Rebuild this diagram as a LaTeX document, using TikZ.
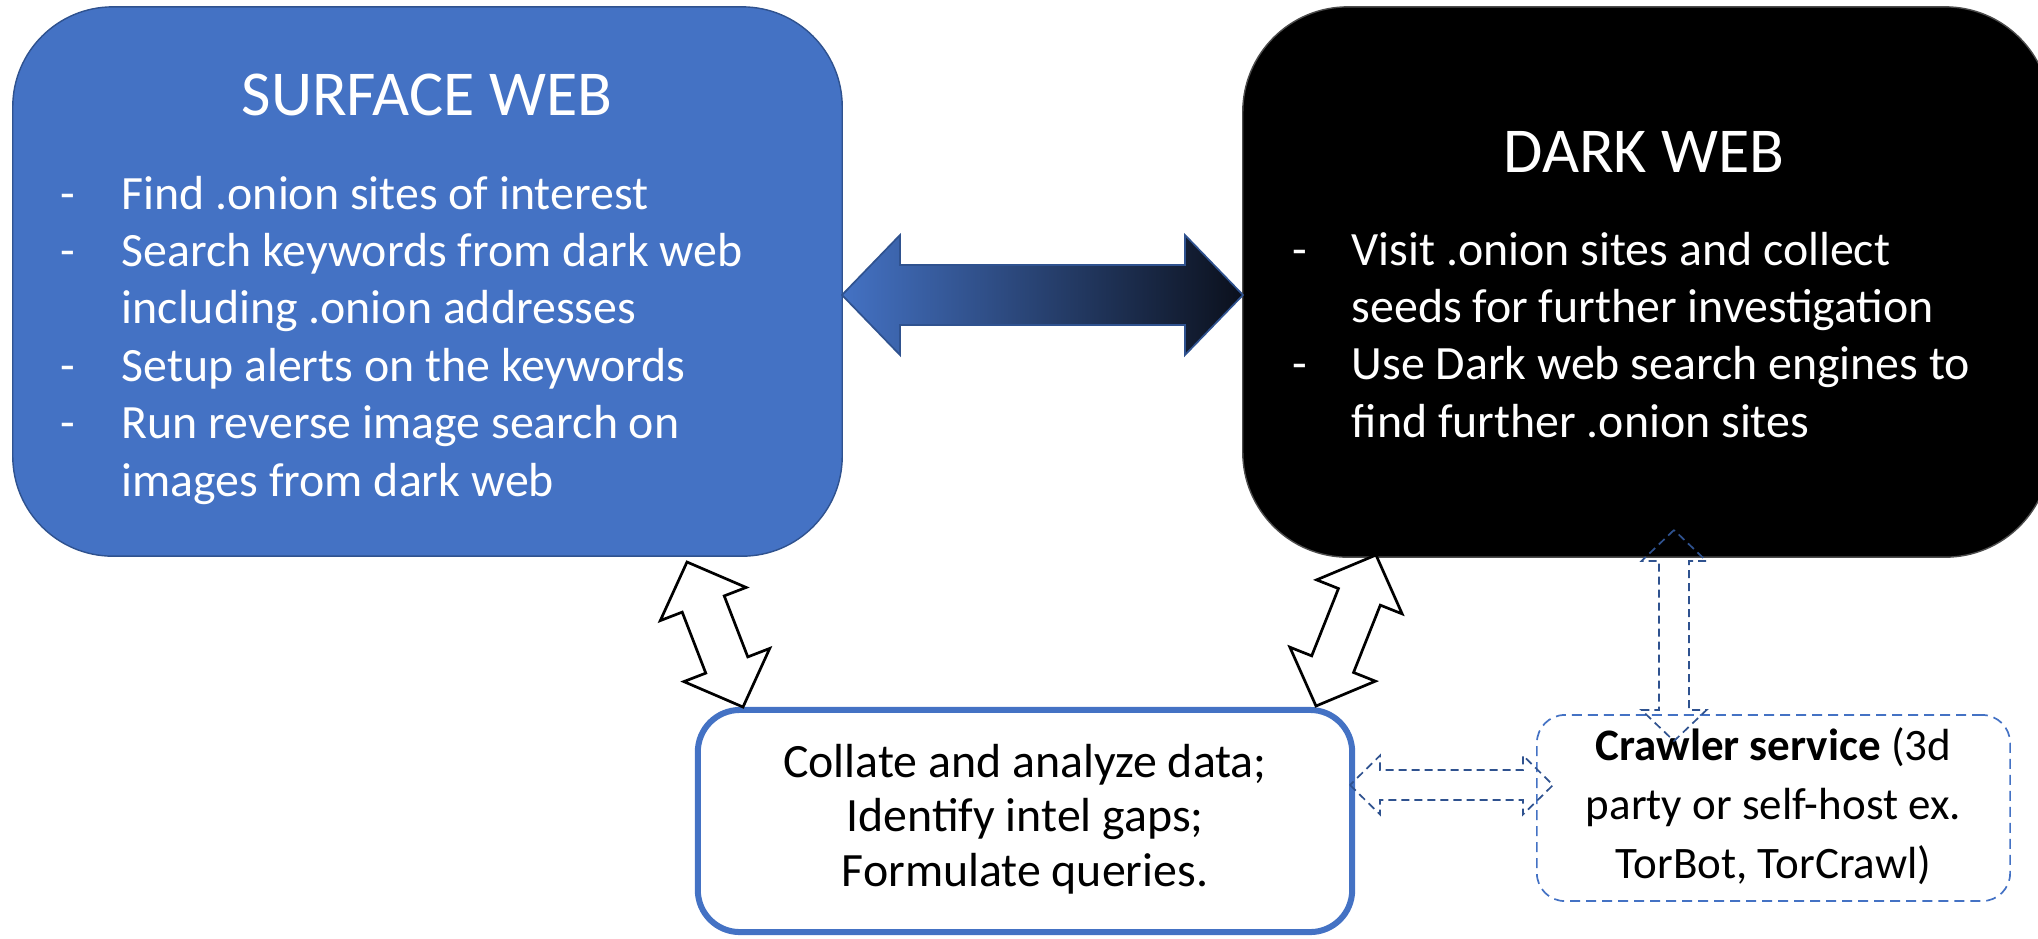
\documentclass[tikz,border=0pt]{standalone}
\usepackage{fontspec}
\setmainfont{Carlito}
\usetikzlibrary{calc}

\definecolor{officeblue}{HTML}{4472C4}
\definecolor{edgeblue}{HTML}{2F528F}
\definecolor{darkend}{HTML}{0B101C}

% block double arrow between two points: style, from, to, head length, head half width, shaft half width
\newcommand{\dblarrow}[6]{%
  \coordinate (ha) at ($(#2)!#4!(#3)$);
  \coordinate (hb) at ($(#3)!#4!(#2)$);
  \draw [#1] (#2) -- ($(ha)!#5!90:(#2)$) -- ($(ha)!#6!90:(#2)$)
    -- ($(hb)!#6!-90:(#3)$) -- ($(hb)!#5!-90:(#3)$) -- (#3)
    -- ($(hb)!#5!90:(#3)$) -- ($(hb)!#6!90:(#3)$)
    -- ($(ha)!#6!-90:(#2)$) -- ($(ha)!#5!-90:(#2)$) -- cycle;
}

\begin{document}
\begin{tikzpicture}[x=0.01cm, y=-0.01cm,
    webbox/.style={rounded corners=1cm, inner sep=0pt, line width=0.4pt},
    webtitle/.style={anchor=base, inner sep=0pt, text=white, font=\fontsize{18.2}{22}\selectfont},
    weblist/.style={anchor=base west, inner sep=0pt, text=white, font=\fontsize{13.6}{16.33}\selectfont},
    dashline/.style={line width=0.017cm, dash pattern=on 0.08cm off 0.05cm}]
        \useasboundingbox (0,0) rectangle (2038,938);
        
        %the two web boxes
        \node [webbox, fill=officeblue, draw=edgeblue, minimum width=8.29cm, minimum height=5.49cm] (surface) at (427.5,281.5) {};
        \node [webbox, fill=black, draw=black!70, rounded corners=1.05cm, minimum width=8.07cm, minimum height=5.5cm] (dark) at (1646.5,282) {};
        
        \node [webtitle] (surftitle) at (427,115) {SURFACE WEB};
        \node [webtitle] (darktitle) at (1644,172) {DARK WEB};
        
        \node [weblist] (surflist) at (60,209) {\begin{tabular}[t]{@{}p{0.61cm}@{}l@{}}
            - & Find .onion sites of interest\\
            - & Search keywords from dark web\\
              & including .onion addresses\\
            - & Setup alerts on the keywords\\
            - & Run reverse image search on\\
              & images from dark web
        \end{tabular}};
        \node [weblist] (darklist) at (1292,265) {\begin{tabular}[t]{@{}p{0.59cm}@{}l@{}}
            - & Visit .onion sites and collect\\
              & seeds for further investigation\\
            - & Use Dark web search engines to\\
              & find further .onion sites
        \end{tabular}};
        
        %bottom boxes
        \node [draw=officeblue, line width=0.06cm, fill=white, rounded corners=0.42cm, minimum width=6.54cm, minimum height=2.22cm, inner sep=0pt, font=\fontsize{13.6}{15.6}\selectfont] (collate) at (1025,821) {\begin{tabular}{@{}c@{}}
            Collate and analyze data;\\
            Identify intel gaps;\\
            Formulate queries.
        \end{tabular}};
        \node [draw=officeblue, dashline, dash pattern=on 0.1cm off 0.06cm, rounded corners=0.28cm, minimum width=4.73cm, minimum height=1.86cm, inner sep=0pt, font=\fontsize{12.8}{16.8}\selectfont] (crawler) at (1773.5,808) {\begin{tabular}{@{}c@{}}
            \textbf{Crawler service} (3d\\
            party or self-host ex.\\
            TorBot, TorCrawl)
        \end{tabular}};
        
        %arrow ends
        \coordinate (ga) at (842,295);
        \coordinate (gb) at (1243,295);
        \coordinate (wa1) at (687,562);
        \coordinate (wa2) at (743,707);
        \coordinate (wb1) at (1376,555);
        \coordinate (wb2) at (1316,706);
        \coordinate (da1) at (1674,530);
        \coordinate (da2) at (1674,741);
        \coordinate (db1) at (1350,785);
        \coordinate (db2) at (1553,785);
        
        \dblarrow{draw=edgeblue, line width=0.017cm, left color=officeblue, middle color=officeblue!65!darkend, right color=darkend}{ga}{gb}{0.58cm}{0.6cm}{0.3cm}
        \dblarrow{draw=black, line width=0.027cm, fill=white}{wa1}{wa2}{0.45cm}{0.46cm}{0.225cm}
        \dblarrow{draw=black, line width=0.027cm, fill=white}{wb1}{wb2}{0.45cm}{0.46cm}{0.225cm}
        \dblarrow{draw=edgeblue, dashline}{da1}{da2}{0.31cm}{0.325cm}{0.15cm}
        \dblarrow{draw=edgeblue, dashline}{db1}{db2}{0.30cm}{0.295cm}{0.15cm}
        
    \end{tikzpicture}
\end{document}
